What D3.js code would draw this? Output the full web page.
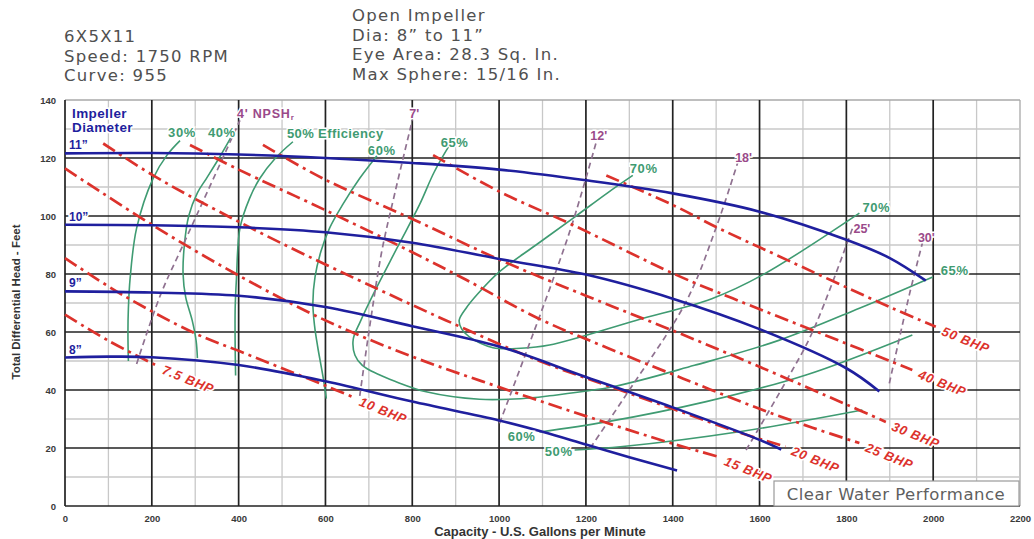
<!DOCTYPE html>
<html>
<head>
<meta charset="utf-8">
<script src="https://cdn.jsdelivr.net/npm/d3@7"></script>
<style>
  body { margin: 0; background: #fff; }
  svg { display: block; }
</style>
</head>
<body>
<script>
// header text
const headerLeft = ["6X5X11", "Speed: 1750 RPM", "Curve: 955"];
const headerRight = ["Open Impeller", "Dia: 8\u201D to 11\u201D", "Eye Area: 28.3 Sq. In.", "Max Sphere: 15/16 In."];

const xTicks = [0, 200, 400, 600, 800, 1000, 1200, 1400, 1600, 1800, 2000, 2200];
const yTicks = [0, 20, 40, 60, 80, 100, 120, 140];

// impeller head curves [gpm, ft]
const dia11 = [[0,121.6],[200,121.7],[400,121.2],[600,120],[800,118.3],[1000,116],[1200,112.3],[1400,107.8],[1600,101.5],[1800,91.8],[1900,85.5],[1983,77.7]];
const dia10 = [[0,97],[200,96.8],[400,96.1],[600,94.4],[800,90.8],[1000,85.2],[1200,79.8],[1400,71.5],[1600,61],[1800,47.5],[1876,39.5]];
const dia9 = [[0,74],[200,73.6],[400,72.5],[600,68.6],[800,62],[1000,55],[1200,44.5],[1400,34],[1600,22.8],[1650,19.5]];
const dia8 = [[0,51.2],[100,51.5],[200,51.3],[400,48.6],[600,43],[800,36],[1000,29.5],[1100,25.6],[1200,21.2],[1300,16.8],[1410,12.2]];
const impellerNames = ["11\u201D", "10\u201D", "9\u201D", "8\u201D"];

// brake horsepower lines
const bhp7_5 = [[0,66],[100,57],[210,48.5]];
const bhp10 = [[0,85.5],[130,73],[300,59.5],[400,53.5],[500,47.5],[600,41.5],[664,37.5]];
const bhp15 = [[0,116.4],[200,97],[400,79.5],[600,64],[800,51.5],[1000,41],[1200,31],[1400,21.5],[1505,17]];
const bhp20 = [[88,125],[203,114],[311,105],[500,90.5],[725,74.5],[878,64],[1093,50],[1250,41.5],[1400,33.5],[1550,25.5],[1660,20.5]];
const bhp25 = [[288,124.5],[400,116],[600,102],[800,87.5],[924,78],[1093,64.5],[1250,54.5],[1423,44],[1600,33.5],[1722,27],[1830,21.7]];
const bhp30 = [[456,124.5],[600,112.5],[800,99],[1000,85],[1200,72.5],[1400,60.5],[1600,48],[1800,35],[1891,29]];
const bhp40 = [[848,121],[1001,108.4],[1170,96.9],[1408,79.7],[1538,71.6],[1750,59],[1952,46.9]];
const bhp50 = [[1247,114],[1400,103.8],[1507,95.7],[1638,86.6],[1906,68.2],[2006,61.8]];
const bhpNames = ["7.5 BHP", "10 BHP", "15 BHP", "20 BHP", "25 BHP", "30 BHP", "40 BHP", "50 BHP"];

// efficiency contours
const eff30 = [[146,50],[145,60],[146,68],[150,78.5],[165,95.8],[203,113],[235,121],[265,126]];
const eff40 = [[305,51],[302,57],[293,64],[278,72],[272,80],[275,90],[285,100],[305,108],[326,113],[355,120],[382,127]];
const eff50 = [[393,45],[392,55],[392,68],[395,78.5],[403,95.8],[425,106],[449,113],[485,120],[525,125.6]];
const eff60 = [[602,37],[595,44],[582,55],[575,62],[571,70],[576,79],[590,88],[610,96],[640,104],[679,113],[725,122]];
const eff65 = [[886,124.5],[850,115],[817,104],[765,89],[710,73],[680,63.5],[664,57.5],[668,52],[685,48.5],[720,45.5],[760,43],[832,39.4],[955,36.8],[1050,37],[1116,38],[1262,41.1],[1450,48.5],[1646,57.2],[1830,68.2],[1999,79]];
const eff70 = [[1308,114],[1250,108],[1170,99.2],[1085,90],[1001,80.8],[950,73],[924,68.2],[908,64],[914,61],[930,58.5],[986,54.6],[1050,54.4],[1116,55.5],[1315,64],[1490,71.5],[1607,79.7],[1830,101]];
const eff60b = [[1093,25.5],[1247,29],[1477,36],[1707,45.2],[1952,59]];
const eff50b = [[1174,19.3],[1285,20.5],[1553,25.6],[1837,33.1]];

// NPSH required
const npsh4 = [[165,49],[220,72.8],[272,90],[330,109],[403,133]];
const npsh7 = [[679,38],[705,65],[730,88],[760,108],[800,133]];
const npsh12 = [[1001,28.5],[1060,52],[1124,78],[1170,98],[1224,125.6]];
const npsh18 = [[1210,20],[1300,40],[1431,70.5],[1500,96],[1553,120]];
const npsh25 = [[1569,19.3],[1661,43],[1722,60],[1814,95.7]];
const npsh30 = [[1899,42.3],[1945,72.8],[1975,90.6]];

const W = 1034, H = 539;
const blue = "#1f1f9e", red = "#dc322c", green = "#3f9b72", mauve = "#9a4a8a", npshLine = "#8f7190";

const svg = d3.select("body").append("svg").attr("width", W).attr("height", H);

const x = d3.scaleLinear().domain([0, 2200]).range([65, 1020]);
const y = d3.scaleLinear().domain([0, 140]).range([506, 100]);

const line = d3.line()
  .x((d) => x(d[0]))
  .y((d) => y(d[1]))
  .curve(d3.curveCatmullRom.alpha(0.5));

// header
const hdr = svg.append("g")
  .attr("font-family", "DejaVu Sans, sans-serif")
  .attr("font-size", 16.5)
  .attr("letter-spacing", 1.3)
  .attr("fill", "#505050");
headerLeft.forEach((t, i) => hdr.append("text").attr("x", 64).attr("y", 42 + i * 19.5).text(t));
headerRight.forEach((t, i) => hdr.append("text").attr("x", 352).attr("y", 21 + i * 19.5).text(t));

// grid
const grid = svg.append("g");
grid.selectAll(".vminor")
  .data(d3.range(0, 2201, 100).filter((d) => d % 200 !== 0 || d === 2200))
  .enter().append("line")
  .attr("x1", (d) => x(d)).attr("x2", (d) => x(d))
  .attr("y1", y(140)).attr("y2", y(0))
  .attr("stroke", (d) => d === 2200 ? "#a8a8a8" : "#c8c8c8").attr("stroke-width", 1.3);
grid.selectAll(".hminor")
  .data(d3.range(0, 141, 10).filter((d) => d % 20 !== 0 || d === 140))
  .enter().append("line")
  .attr("x1", x(0)).attr("x2", x(2200))
  .attr("y1", (d) => y(d)).attr("y2", (d) => y(d))
  .attr("stroke", (d) => d === 140 ? "#a8a8a8" : "#c8c8c8").attr("stroke-width", 1.3);
grid.selectAll(".vmajor")
  .data(xTicks.filter((d) => d < 2200))
  .enter().append("line")
  .attr("x1", (d) => x(d)).attr("x2", (d) => x(d))
  .attr("y1", y(140)).attr("y2", y(0))
  .attr("stroke", "#222").attr("stroke-width", 1.7);
grid.selectAll(".hmajor")
  .data(yTicks.filter((d) => d < 140))
  .enter().append("line")
  .attr("x1", x(0)).attr("x2", x(2200))
  .attr("y1", (d) => y(d)).attr("y2", (d) => y(d))
  .attr("stroke", "#222").attr("stroke-width", 1.7);

// axes (labels only)
const xAxis = d3.axisBottom(x).tickValues(xTicks).tickFormat(d3.format("d")).tickSize(0).tickPadding(0);
const yAxis = d3.axisLeft(y).tickValues(yTicks).tickFormat(d3.format("d")).tickSize(0).tickPadding(0);
const gx = svg.append("g").attr("transform", "translate(0,515)").call(xAxis);
const gy = svg.append("g").attr("transform", "translate(56,0)").call(yAxis);
[gx, gy].forEach((g) => {
  g.select(".domain").remove();
  g.selectAll("text")
    .attr("font-family", "Liberation Sans, Arial, sans-serif")
    .attr("font-size", 9.5).attr("font-weight", "bold").attr("fill", "#3a3a3a");
});

svg.append("text")
  .attr("x", 540).attr("y", 536)
  .attr("text-anchor", "middle")
  .attr("font-family", "Liberation Sans, Arial, sans-serif")
  .attr("font-size", 13).attr("font-weight", "bold").attr("fill", "#333")
  .text("Capacity - U.S. Gallons per Minute");
svg.append("text")
  .attr("transform", "translate(20,302) rotate(-90)")
  .attr("text-anchor", "middle")
  .attr("font-family", "Liberation Sans, Arial, sans-serif")
  .attr("font-size", 11.5).attr("font-weight", "bold").attr("fill", "#333")
  .text("Total Differential Head - Feet");

// efficiency
const effSeries = [eff30, eff40, eff50, eff60, eff65, eff70, eff60b, eff50b];
svg.append("g").selectAll("path").data(effSeries).enter().append("path")
  .attr("d", line).attr("fill", "none")
  .attr("stroke", green).attr("stroke-width", 1.6);

// NPSH
const npshSeries = [npsh4, npsh7, npsh12, npsh18, npsh25, npsh30];
svg.append("g").selectAll("path").data(npshSeries).enter().append("path")
  .attr("d", line).attr("fill", "none")
  .attr("stroke", npshLine).attr("stroke-width", 1.7)
  .attr("stroke-dasharray", "6,4");

// BHP
const bhpSeries = [bhp7_5, bhp10, bhp15, bhp20, bhp25, bhp30, bhp40, bhp50];
svg.append("g").selectAll("path").data(bhpSeries).enter().append("path")
  .attr("d", line).attr("fill", "none")
  .attr("stroke", red).attr("stroke-width", 2.7)
  .attr("stroke-dasharray", "14,5,3,5");

// impellers
const impSeries = [dia11, dia10, dia9, dia8];
svg.append("g").selectAll("path").data(impSeries).enter().append("path")
  .attr("d", line).attr("fill", "none")
  .attr("stroke", blue).attr("stroke-width", 2.6);

// labels
function label(t, px, py, color, size, anchor, spacing) {
  return svg.append("text")
    .attr("x", px).attr("y", py)
    .attr("text-anchor", anchor || "start")
    .attr("font-family", "Liberation Sans, Arial, sans-serif")
    .attr("font-size", size).attr("font-weight", "bold")
    .attr("letter-spacing", spacing || 0)
    .attr("fill", color)
    .attr("stroke", "#fff").attr("stroke-width", 3).attr("paint-order", "stroke")
    .text(t);
}
const first = (s) => s[0], last = (s) => s[s.length - 1];

label("Impeller", 72, 118, blue, 13.5, "start", 0.4);
label("Diameter", 72, 132, blue, 13.5, "start", 0.4);
impSeries.forEach((s, i) => {
  label(impellerNames[i], 69, y(first(s)[1]) - 4, blue, 12);
});

bhpSeries.forEach((s, i) => {
  const e = last(s);
  svg.append("text")
    .attr("transform", "translate(" + (x(e[0]) + 5) + "," + (y(e[1]) + 8) + ") rotate(22)")
    .attr("font-family", "Liberation Sans, Arial, sans-serif")
    .attr("font-size", 13).attr("font-weight", "bold").attr("font-style", "italic")
    .attr("letter-spacing", 0.8)
    .attr("fill", red)
    .attr("stroke", "#fff").attr("stroke-width", 3).attr("paint-order", "stroke")
    .text(bhpNames[i]);
});

// efficiency labels
const es = 13, ls = 0.6;
label("30%", x(last(eff30)[0]) + 2, y(last(eff30)[1]) - 4, green, es, "middle", ls);
label("40%", x(last(eff40)[0]) - 9, y(last(eff40)[1]) - 1, green, es, "middle", ls);
label("50% Efficiency", x(last(eff50)[0]) - 6, y(last(eff50)[1]) - 4, green, es, "start", 0.4);
label("60%", x(last(eff60)[0]) + 2, y(last(eff60)[1]) + 3, green, es, "middle", ls);
label("65%", x(first(eff65)[0]) + 5, y(first(eff65)[1]) + 2, green, es, "middle", ls);
label("70%", x(first(eff70)[0]) - 3, y(first(eff70)[1]) - 2, green, es, "start", ls);
label("70%", x(last(eff70)[0]) + 3, y(last(eff70)[1]) - 1, green, es, "start", ls);
label("65%", x(last(eff65)[0]) + 8, y(last(eff65)[1]) - 2, green, es, "start", ls);
label("60%", x(first(eff60b)[0]) - 4, y(first(eff60b)[1]) + 9, green, es, "end", ls);
label("50%", x(first(eff50b)[0]) - 2, y(first(eff50b)[1]) + 6, green, es, "end", ls);

// NPSH labels
const ns = 12.5;
const n4 = label("4' NPSH", x(last(npsh4)[0]) - 3, y(last(npsh4)[1]) - 2, mauve, ns, "start", 0.8);
n4.append("tspan").attr("font-size", 8).attr("dy", 2).text("r");
label("7'", x(last(npsh7)[0]) + 2, y(last(npsh7)[1]) - 2, mauve, ns, "middle");
label("12'", x(last(npsh12)[0]) - 6, y(last(npsh12)[1]) - 2, mauve, ns);
label("18'", x(last(npsh18)[0]) - 4, y(last(npsh18)[1]) + 4, mauve, ns);
label("25'", x(last(npsh25)[0]) + 1, y(last(npsh25)[1]) + 5, mauve, ns);
label("30'", x(last(npsh30)[0]) + 4, y(last(npsh30)[1]) - 1, mauve, ns, "middle");

// clear water box
svg.append("rect")
  .attr("x", 774).attr("y", 481).attr("width", 245).attr("height", 25)
  .attr("fill", "#fff").attr("stroke", "#9a9a9a").attr("stroke-width", 1.2);
svg.append("text")
  .attr("x", 896).attr("y", 500)
  .attr("text-anchor", "middle")
  .attr("font-family", "DejaVu Sans, sans-serif")
  .attr("font-size", 16.5).attr("letter-spacing", 0.5)
  .attr("fill", "#606060")
  .text("Clear Water Performance");
</script>
</body>
</html>
